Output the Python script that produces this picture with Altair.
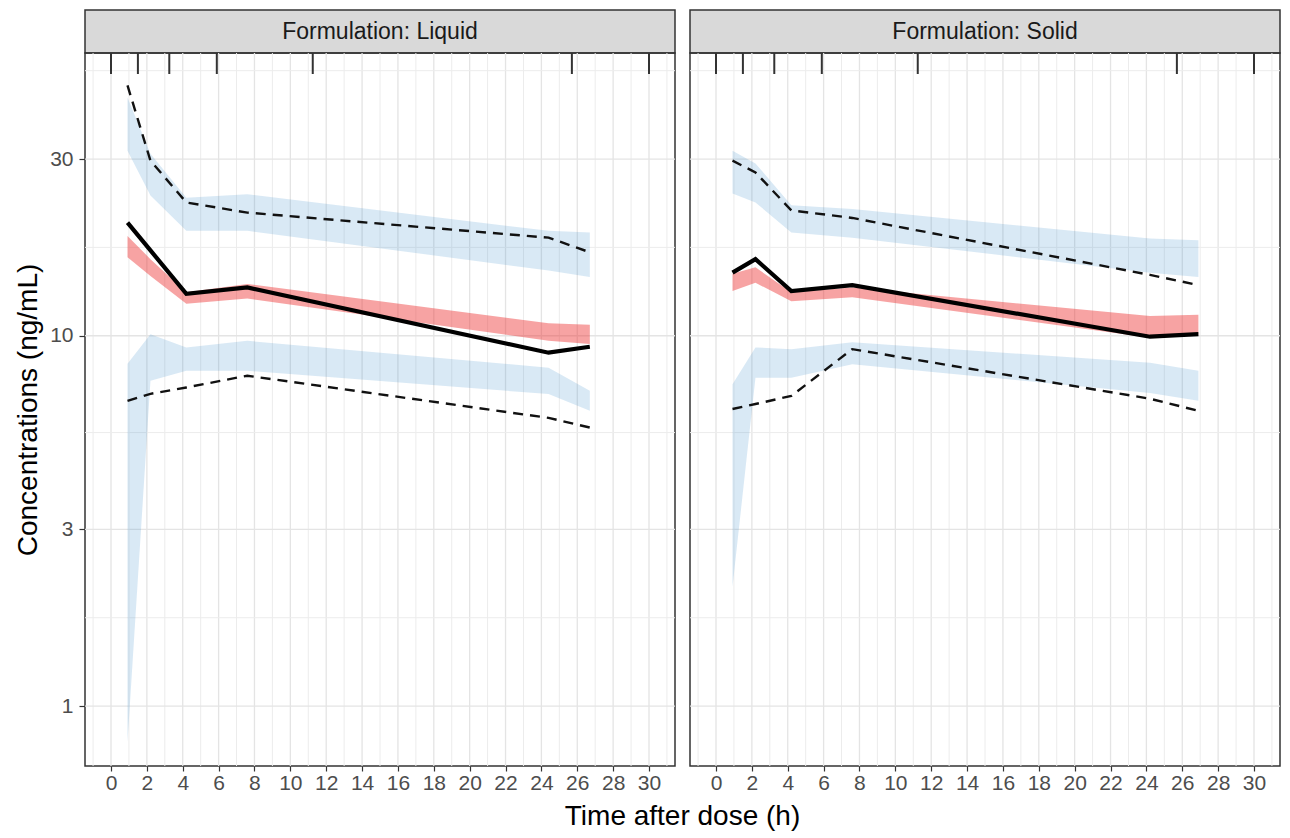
import altair as alt
import pandas as pd

FONT = "Liberation Sans"

# bin boundaries shown as rug at top of each panel
bin_edges = [0, 1.5, 3.25, 5.9, 11.25, 25.7, 30]

# ---- Formulation: Liquid ----
liq_time = [0.92, 2.2, 4.2, 7.6, 24.4, 26.7]
liq_obs_med = [20.2, 17.0, 12.97, 13.5, 9.0, 9.34]
liq_obs_p95 = [47.4, 29.7, 22.9, 21.5, 18.4, 16.8]
liq_obs_p5 = [6.67, 6.97, 7.25, 7.8, 6.0, 5.65]
liq_med_lo = [16.3, 14.5, 12.2, 12.6, 9.7, 9.5]
liq_med_hi = [18.6, 16.1, 13.1, 13.8, 10.8, 10.7]
liq_p95_lo = [31.6, 23.9, 19.2, 19.2, 15.0, 14.4]
liq_p95_hi = [44.0, 31.0, 23.6, 24.1, 19.2, 19.0]
liq_p5_lo = [0.8, 7.56, 8.04, 8.04, 6.96, 6.27]
liq_p5_hi = [8.4, 10.1, 9.3, 9.69, 8.2, 7.1]

# ---- Formulation: Solid ----
sol_time = [0.92, 2.2, 4.2, 7.6, 24.2, 26.9]
sol_obs_med = [14.8, 16.1, 13.2, 13.7, 9.94, 10.1]
sol_obs_p95 = [29.7, 27.6, 21.8, 20.8, 14.6, 13.7]
sol_obs_p5 = [6.34, 6.54, 6.88, 9.2, 6.76, 6.27]
sol_med_lo = [13.2, 13.9, 12.4, 12.7, 9.88, 10.1]
sol_med_hi = [14.7, 15.3, 13.1, 13.5, 11.3, 11.4]
sol_p95_lo = [24.2, 22.9, 19.0, 18.4, 14.8, 14.4]
sol_p95_hi = [31.6, 29.2, 22.5, 22.0, 18.3, 18.1]
sol_p5_lo = [2.1, 7.7, 7.7, 8.38, 7.0, 6.67]
sol_p5_hi = [7.4, 9.3, 9.2, 9.6, 8.45, 8.04]

x_major = list(range(0, 31, 2))
x_minor = list(range(-1, 32, 2))
y_major = [1, 3, 10, 30]
y_minor = [1.732, 5.477, 17.32, 51.96]

W, H, SH = 590, 713, 43
XDOM = [-1.45, 31.45]
YDOM = [0.689, 58]
LABEL_SIZE = 21
TITLE_SIZE = 28


def make_panel(time, med, p5, p95, med_lo, med_hi, p5_lo, p5_hi, p95_lo, p95_hi, first):
    df = pd.DataFrame(dict(time=time, med=med, p5=p5, p95=p95, med_lo=med_lo,
                           med_hi=med_hi, p5_lo=p5_lo, p5_hi=p5_hi,
                           p95_lo=p95_lo, p95_hi=p95_hi))
    xs = alt.Scale(domain=XDOM, nice=False, zero=False)
    ys = alt.Scale(type="log", domain=YDOM, nice=False)
    if first:
        xaxis = alt.Axis(values=x_major, grid=False, domain=False, tickSize=5,
                         tickColor="#333333", tickWidth=1.2, labelFont=FONT,
                         labelFontSize=LABEL_SIZE, labelColor="#4D4D4D", labelPadding=1,
                         title="Time after dose (h)", titleFont=FONT,
                         titleFontSize=TITLE_SIZE, titleFontWeight="normal",
                         titleColor="#000000", titleX=597, titlePadding=9)
        yaxis = alt.Axis(values=y_major, format="~g", grid=False, domain=False,
                         tickSize=6, tickColor="#333333", tickWidth=1.2,
                         labelFont=FONT, labelFontSize=LABEL_SIZE, labelColor="#4D4D4D",
                         labelPadding=6, title="Concentrations (ng/mL)",
                         titleFont=FONT, titleFontSize=TITLE_SIZE,
                         titleFontWeight="normal", titleColor="#000000", titlePadding=7)
    else:
        xaxis = alt.Axis(values=x_major, grid=False, domain=False, tickSize=5,
                         tickColor="#333333", tickWidth=1.2, labelFont=FONT,
                         labelFontSize=LABEL_SIZE, labelColor="#4D4D4D", labelPadding=1,
                         title=None)
        yaxis = None

    def X(f):
        return alt.X(f"{f}:Q", scale=xs, axis=xaxis)

    def Y(f):
        if yaxis is None:
            return alt.Y(f"{f}:Q", scale=ys, axis=None)
        return alt.Y(f"{f}:Q", scale=ys, axis=yaxis)

    base = alt.Chart(df)
    gx_minor = alt.Chart(pd.DataFrame({"time": x_minor})).mark_rule(
        color="#ECECEC", strokeWidth=1).encode(x=X("time"))
    gx_major = alt.Chart(pd.DataFrame({"time": x_major})).mark_rule(
        color="#E4E4E4", strokeWidth=1.3).encode(x=X("time"))
    gy_minor = alt.Chart(pd.DataFrame({"conc": y_minor})).mark_rule(
        color="#ECECEC", strokeWidth=1).encode(y=Y("conc"))
    gy_major = alt.Chart(pd.DataFrame({"conc": y_major})).mark_rule(
        color="#E4E4E4", strokeWidth=1.3).encode(y=Y("conc"))

    band95 = base.mark_area(color="#3388CC", opacity=0.19).encode(
        x=X("time"), y=Y("p95_lo"), y2="p95_hi")
    band5 = base.mark_area(color="#3388CC", opacity=0.19).encode(
        x=X("time"), y=Y("p5_lo"), y2="p5_hi")
    bandmed = base.mark_area(color="#EE3333", opacity=0.45).encode(
        x=X("time"), y=Y("med_lo"), y2="med_hi")
    line95 = base.mark_line(color="#111111", strokeWidth=2.4, strokeDash=[10, 7]).encode(
        x=X("time"), y=Y("p95"))
    line5 = base.mark_line(color="#111111", strokeWidth=2.4, strokeDash=[10, 7]).encode(
        x=X("time"), y=Y("p5"))
    linemed = base.mark_line(color="#000000", strokeWidth=4.2).encode(
        x=X("time"), y=Y("med"))
    rug = alt.Chart(pd.DataFrame({"time": bin_edges})).mark_rule(
        color="#333333", strokeWidth=2).encode(
        x=X("time"), y=alt.value(0), y2=alt.value(21))

    return alt.layer(gx_minor, gx_major, gy_minor, gy_major, band95, band5, bandmed,
                     line95, line5, linemed, rug).properties(width=W, height=H)


def make_strip(label):
    return alt.Chart(pd.DataFrame({"label": [label]})).mark_text(
        font=FONT, fontSize=23, color="#1A1A1A").encode(
        text="label:N", x=alt.value(W / 2), y=alt.value(SH / 2)).properties(
        width=W, height=SH,
        view=alt.ViewBackground(fill="#D9D9D9", stroke="#333333", strokeWidth=1.5))


left = make_panel(liq_time, liq_obs_med, liq_obs_p5, liq_obs_p95,
                  liq_med_lo, liq_med_hi, liq_p5_lo, liq_p5_hi, liq_p95_lo, liq_p95_hi, True)
right = make_panel(sol_time, sol_obs_med, sol_obs_p5, sol_obs_p95,
                   sol_med_lo, sol_med_hi, sol_p5_lo, sol_p5_hi, sol_p95_lo, sol_p95_hi, False)

chart = alt.concat(
    make_strip("Formulation: Liquid"), make_strip("Formulation: Solid"), left, right,
    columns=2, spacing={"row": 0, "column": 15}, bounds="flush"
).properties(
    padding={"left": 5, "top": 1, "right": 0, "bottom": 0}
).configure_view(stroke="#333333", strokeWidth=1.5)

chart.save("out.html", embed_options={"renderer": "svg", "actions": False})
